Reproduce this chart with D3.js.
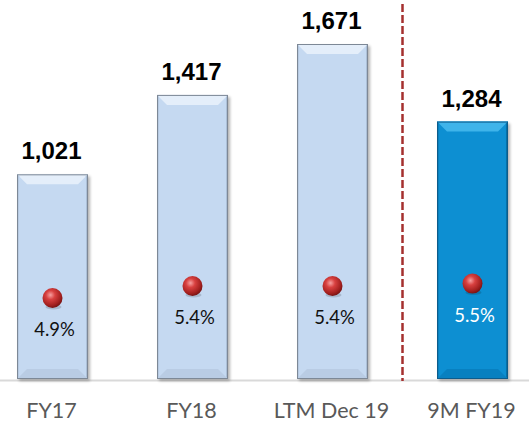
<!DOCTYPE html>
<html><head><meta charset="utf-8">
<script src="https://cdn.jsdelivr.net/npm/d3@7"></script>
<style>body{margin:0;background:#fff}svg{display:block}</style>
</head><body><div id="c"></div>
<script>
const categories = ["FY17", "FY18", "LTM Dec 19", "9M FY19"];
const values = [1021, 1417, 1671, 1284];
const valueLabels = ["1,021", "1,417", "1,671", "1,284"];
const margins = [4.9, 5.4, 5.4, 5.5];
const marginLabels = ["4.9%", "5.4%", "5.4%", "5.5%"];
const highlighted = [false, false, false, true];

const W = 529, H = 425;
const svg = d3.select("#c").append("svg").attr("width", W).attr("height", H);
const defs = svg.append("defs");

const x = d3.scaleBand().domain(categories).range([-17.5, 542.5]).paddingInner(0.493).paddingOuter(0.2465);
const y = d3.scaleLinear().domain([0, 1671]).range([379, 44]);
const yp = d3.scaleLinear().domain([4.9, 5.4]).range([298, 286]);

const rg = defs.append("radialGradient").attr("id", "ball").attr("cx", "40%").attr("cy", "35%").attr("r", "65%");
rg.append("stop").attr("offset", "0%").attr("stop-color", "#f6a0a0");
rg.append("stop").attr("offset", "35%").attr("stop-color", "#d8403f");
rg.append("stop").attr("offset", "80%").attr("stop-color", "#a3201f");
rg.append("stop").attr("offset", "100%").attr("stop-color", "#7a1414");
const f = defs.append("filter").attr("id", "sh").attr("x", "-20%").attr("y", "-20%").attr("width", "150%").attr("height", "150%");
f.append("feGaussianBlur").attr("in", "SourceAlpha").attr("stdDeviation", 1.5);
f.append("feOffset").attr("dx", 2).attr("dy", 2).attr("result", "b");
f.append("feComponentTransfer").append("feFuncA").attr("type", "linear").attr("slope", 0.3);
const fm = f.append("feMerge"); fm.append("feMergeNode"); fm.append("feMergeNode").attr("in", "SourceGraphic");

svg.append("line").attr("x1", 0).attr("x2", W).attr("y1", 380.5).attr("y2", 380.5)
  .attr("stroke", "#d9d9d9").attr("stroke-width", 2);

const bev = 10;
categories.forEach((c, i) => {
  const x0 = x(c), bw = x.bandwidth(), x1 = x0 + bw;
  const y0 = y(values[i]), yb = y(0);
  const hi = highlighted[i];
  const g = svg.append("g");
  const fill = hi ? "#0a8fd2" : "#c5d9f1";
  g.append("rect").attr("x", x0).attr("y", y0).attr("width", bw).attr("height", yb - y0)
    .attr("fill", fill).attr("filter", "url(#sh)");
  g.append("polygon").attr("points", [[x0, y0], [x1, y0], [x1 - bev, y0 + bev], [x0 + bev, y0 + bev]].join(" "))
    .attr("fill", hi ? "#3fb4ea" : "#e4eefa");
  g.append("polygon").attr("points", [[x0, yb], [x1, yb], [x1 - bev, yb - bev], [x0 + bev, yb - bev]].join(" "))
    .attr("fill", hi ? "#0880c0" : "#b9cce4");
  g.append("polygon").attr("points", [[x0, y0], [x0 + 2, y0 + 2], [x0 + 2, yb - 2], [x0, yb]].join(" "))
    .attr("fill", hi ? "#0a80bd" : "#b8cbe3");
  g.append("polygon").attr("points", [[x1, y0], [x1 - 2, y0 + 2], [x1 - 2, yb - 2], [x1, yb]].join(" "))
    .attr("fill", hi ? "#0670a8" : "#adc0d8");
  g.append("rect").attr("x", x0 + 0.5).attr("y", y0 + 0.5).attr("width", bw - 1).attr("height", yb - y0 - 1)
    .attr("fill", "none").attr("stroke", hi ? "#0d5c8c" : "#7d8896").attr("stroke-width", 1);

  const cx = x0 + bw / 2;
  svg.append("text").attr("x", cx - 1).attr("y", y0 - 15).attr("text-anchor", "middle")
    .attr("font-family", "Liberation Sans, Arial, sans-serif").attr("font-weight", "bold")
    .attr("font-size", 24).attr("fill", "#000").text(valueLabels[i]);

  const py = yp(margins[i]);
  svg.append("ellipse").attr("cx", cx + 1).attr("cy", py + 9).attr("rx", 8).attr("ry", 2.5)
    .attr("fill", "#000").attr("opacity", 0.15);
  svg.append("circle").attr("cx", cx).attr("cy", py).attr("r", 10).attr("fill", "url(#ball)");
  svg.append("text").attr("x", cx + 2).attr("y", py + 38).attr("text-anchor", "middle")
    .attr("font-family", "Lato, sans-serif").attr("font-size", 18.5)
    .attr("fill", hi ? "#ffffff" : "#111").text(marginLabels[i]);

  svg.append("text").attr("x", cx - 1).attr("y", 418).attr("text-anchor", "middle")
    .attr("font-family", "Lato, sans-serif").attr("font-size", 21.5)
    .attr("fill", "#595959").text(c);
});

const sepX = (x(categories[2]) + x.bandwidth() + x(categories[3])) / 2;
svg.append("line").attr("x1", sepX).attr("x2", sepX).attr("y1", 4).attr("y2", 381)
  .attr("stroke", "#a5302f").attr("stroke-width", 2.5).attr("stroke-dasharray", "8,3");
</script></body></html>
